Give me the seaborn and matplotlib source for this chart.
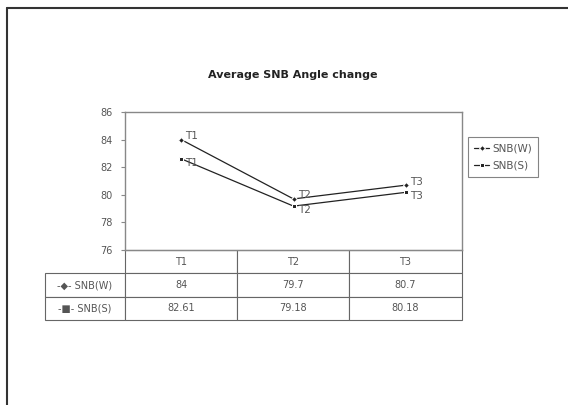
import pandas as pd
import matplotlib
matplotlib.use("Agg")
import matplotlib.pyplot as plt
import seaborn as sns
from matplotlib.lines import Line2D

# data
times = ["T1", "T2", "T3"]
snb_w = [84, 79.7, 80.7]
snb_s = [82.61, 79.18, 80.18]
w_text = ["84", "79.7", "80.7"]
s_text = ["82.61", "79.18", "80.18"]
series = ["SNB(W)", "SNB(S)"]
y_ticks = [76, 78, 80, 82, 84, 86]

df = pd.DataFrame({
    "time": times * 2,
    "value": snb_w + snb_s,
    "series": [series[0]] * 3 + [series[1]] * 3,
})

sns.set_style("white")
plt.rcParams["font.family"] = ["DejaVu Sans"]
grey = "#555555"

fig = plt.figure(figsize=(5.68, 4.05), dpi=100)
ax = fig.add_axes([125 / 568, 1 - 250 / 405, 337 / 568, 138 / 405])

sns.lineplot(data=df, x="time", y="value", hue="series", style="series",
             palette=["#222222", "#222222"], markers=["D", "s"], dashes=False,
             markersize=3, linewidth=0.9, ax=ax, legend=True)

# point labels (W a bit up, S a bit down so they don't collide)
for vals, dy in ((snb_w, 2.5), (snb_s, -3)):
    for i, v in enumerate(vals):
        ax.annotate(times[i], (i, v), xytext=(3, dy), textcoords="offset points",
                    fontsize=7.5, color=grey, va="center", ha="left")

ax.set_xlim(-0.5, 2.5)
ax.set_ylim(76, 86)
ax.set_yticks(y_ticks)
ax.set_yticklabels([str(t) for t in y_ticks], fontsize=7, color=grey)
ax.set_xticks([])
ax.set_xlabel("")
ax.set_ylabel("")
ax.tick_params(axis="y", length=3, color="#888888", direction="out", pad=6, left=True)
for sp in ax.spines.values():
    sp.set_color("#888888")
    sp.set_linewidth(1.0)

# legend box on the right
handles, labels = ax.get_legend_handles_labels()
ax.get_legend().remove()
leg = fig.legend(handles, labels, loc="upper left",
                 bbox_to_anchor=(468 / 568, 1 - 137 / 405), borderaxespad=0,
                 fontsize=7.5, frameon=True, fancybox=False, handlelength=1.4,
                 handletextpad=0.3, borderpad=0.6, labelspacing=0.7)
leg.get_frame().set_edgecolor("#666666")
leg.get_frame().set_linewidth(0.8)
for t in leg.get_texts():
    t.set_color(grey)

# data table under the plot
cell_text = [["-\u25c6- " + series[0]] + w_text,
             ["-\u25a0- " + series[1]] + s_text]
col_w = [80 / 417, 112 / 417, 112 / 417, 113 / 417]
tab = ax.table(cellText=cell_text, colLabels=[""] + times, cellLoc="center",
               colWidths=col_w, bbox=[-80 / 337, -70 / 138, 417 / 337, 70 / 138])
tab.auto_set_font_size(False)
tab.set_fontsize(7)
for (r, c), cell in tab.get_celld().items():
    cell.set_edgecolor("#666666")
    cell.set_linewidth(0.8)
    cell.get_text().set_color(grey)
    if r == 0 and c == 0:
        cell.visible_edges = "open"

fig.suptitle("Average SNB Angle change", x=293 / 568, y=1 - 70 / 405,
             fontsize=8, fontweight="bold", color="#222222")

# outer frame lines (top and left only)
fig.add_artist(Line2D([7 / 568, 1], [1 - 8 / 405] * 2, transform=fig.transFigure,
                      color="#333333", lw=1.5))
fig.add_artist(Line2D([7 / 568] * 2, [0, 1 - 8 / 405], transform=fig.transFigure,
                      color="#333333", lw=1.5))

fig.savefig("out.png", dpi=100)
